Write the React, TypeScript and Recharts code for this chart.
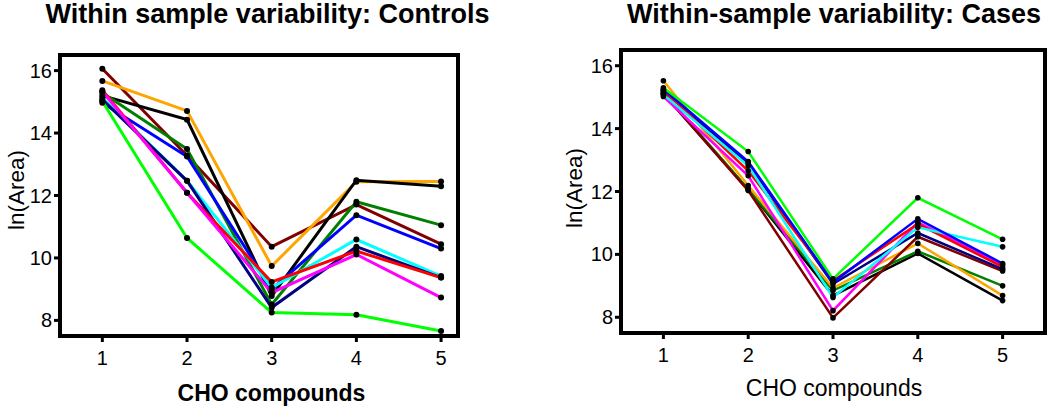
import React from "react";
import { LineChart, Line, XAxis, YAxis, ReferenceArea } from "recharts";

// compound index on the x axis
const compounds = [1, 2, 3, 4, 5];
const yTicks = [8, 10, 12, 14, 16];

// Controls: ln(Area) per sample
const ctlBrown = [16.06, 13.28, 10.36, 11.71, 10.44];
const ctlOrange = [15.67, 14.71, 9.74, 12.44, 12.45];
const ctlBlack = [15.2, 14.43, 8.78, 12.49, 12.3];
const ctlGreen = [15.29, 13.49, 8.51, 11.8, 11.05];
const ctlBlue = [14.97, 13.25, 9.0, 11.37, 10.3];
const ctlCyan = [15.13, 12.47, 9.05, 10.59, 9.42];
const ctlNavy = [15.07, 12.47, 8.41, 10.36, 9.37];
const ctlRed = [15.37, 12.09, 9.23, 10.22, 9.37];
const ctlMagenta = [15.33, 12.09, 8.89, 10.11, 8.73];
const ctlLime = [15.02, 10.64, 8.25, 8.18, 7.66];

// Cases: ln(Area) per sample
const caseLime = [15.3, 13.27, 9.22, 11.8, 10.48];
const caseCyan = [15.08, 12.82, 8.63, 10.86, 10.24];
const caseBlue = [15.25, 12.95, 9.11, 11.13, 9.71];
const caseRed = [15.22, 12.66, 9.16, 10.97, 9.6];
const caseMagenta = [15.02, 12.5, 8.21, 11.02, 9.67];
const caseNavy = [15.2, 12.9, 9.06, 10.68, 9.53];
const caseBrown = [15.12, 12.03, 7.98, 10.56, 9.47];
const caseOrange = [15.52, 12.19, 8.93, 10.35, 8.69];
const caseGreen = [15.15, 12.08, 8.85, 10.1, 9.0];
const caseBlack = [15.1, 12.06, 8.69, 10.03, 8.53];

const ctlSeries = [
  { key: "brown", color: "#800000", values: ctlBrown },
  { key: "orange", color: "#ffa500", values: ctlOrange },
  { key: "black", color: "#000000", values: ctlBlack },
  { key: "green", color: "#008000", values: ctlGreen },
  { key: "blue", color: "#0000ff", values: ctlBlue },
  { key: "cyan", color: "#00ffff", values: ctlCyan },
  { key: "navy", color: "#000080", values: ctlNavy },
  { key: "red", color: "#ff0000", values: ctlRed },
  { key: "magenta", color: "#ff00ff", values: ctlMagenta },
  { key: "lime", color: "#00ff00", values: ctlLime },
];

const caseSeries = [
  { key: "black", color: "#000000", values: caseBlack },
  { key: "green", color: "#008000", values: caseGreen },
  { key: "orange", color: "#ffa500", values: caseOrange },
  { key: "brown", color: "#800000", values: caseBrown },
  { key: "navy", color: "#000080", values: caseNavy },
  { key: "magenta", color: "#ff00ff", values: caseMagenta },
  { key: "red", color: "#ff0000", values: caseRed },
  { key: "cyan", color: "#00ffff", values: caseCyan },
  { key: "blue", color: "#0000ff", values: caseBlue },
  { key: "lime", color: "#00ff00", values: caseLime },
];

const buildRows = (series: { key: string; values: number[] }[]) =>
  compounds.map((x, i) => {
    const row: any = { x };
    series.forEach((s) => (row[s.key] = s.values[i]));
    return row;
  });

const FONT = "'Liberation Sans', Arial, Helvetica, sans-serif";
const tickStyle = { fontSize: 20, fill: "#000", fontFamily: FONT };

function Panel({ series, xMax, lineWidth, dotR, width, margin }: any) {
  const Y_MIN = 7.5;
  const Y_MAX = 16.5;
  return (
    <LineChart width={width} height={406} data={buildRows(series)} margin={margin}>
      <XAxis
        dataKey="x"
        type="number"
        domain={[0.5, xMax]}
        ticks={compounds}
        allowDataOverflow
        axisLine={false}
        tickLine={{ stroke: "#000", strokeWidth: 3 }}
        tickSize={6}
        tickMargin={9}
        height={40}
        tick={tickStyle}
      />
      <YAxis
        type="number"
        domain={[Y_MIN, Y_MAX]}
        ticks={yTicks}
        allowDataOverflow
        axisLine={false}
        tickLine={{ stroke: "#000", strokeWidth: 3 }}
        tickSize={6}
        tickMargin={2}
        width={45}
        tick={tickStyle}
      />
      {series.map((s: any) => (
        <Line
          key={s.key}
          dataKey={s.key}
          stroke={s.color}
          strokeWidth={lineWidth}
          type="linear"
          dot={{ r: dotR, fill: "#000", stroke: "#000", strokeWidth: 0 }}
          isAnimationActive={false}
        />
      ))}
      <ReferenceArea
        x1={0.5}
        x2={xMax}
        y1={Y_MIN}
        y2={Y_MAX}
        fill="none"
        fillOpacity={0}
        stroke="#000"
        strokeWidth={4}
        ifOverflow="visible"
      />
    </LineChart>
  );
}

const abs = (style: any): any => ({ position: "absolute", fontFamily: FONT, color: "#000", whiteSpace: "nowrap", ...style });

export default function App() {
  return (
    <div style={{ position: "absolute", left: 0, top: 0, width: 1050, height: 406, background: "#fff", overflow: "hidden" }}>
      <div style={abs({ left: 0, top: 0 })}>
        <Panel
          series={ctlSeries}
          xMax={5.2}
          lineWidth={3}
          dotR={3}
          width={470}
          margin={{ top: 55, right: 12, bottom: 30, left: 15 }}
        />
      </div>
      <div style={abs({ left: 560, top: 0 })}>
        <Panel
          series={caseSeries}
          xMax={5.5}
          lineWidth={2.5}
          dotR={2.8}
          width={490}
          margin={{ top: 50, right: 5, bottom: 33, left: 16 }}
        />
      </div>

      <div style={abs({ left: 267.5, top: 1, transform: "translateX(-50%)", fontSize: 27, lineHeight: "27px", fontWeight: 700 })}>
        Within sample variability: Controls
      </div>
      <div style={abs({ left: 834, top: 1, transform: "translateX(-50%)", fontSize: 27, lineHeight: "27px", fontWeight: 700 })}>
        Within-sample variability: Cases
      </div>

      <div style={abs({ left: 271.5, top: 382, transform: "translateX(-50%)", fontSize: 23, lineHeight: "23px", fontWeight: 700 })}>
        CHO compounds
      </div>
      <div style={abs({ left: 834, top: 377, transform: "translateX(-50%)", fontSize: 23, lineHeight: "23px" })}>
        CHO compounds
      </div>

      <div style={abs({ left: 17, top: 190, transform: "translate(-50%, -50%) rotate(-90deg)", fontSize: 22.5, lineHeight: 1 })}>
        ln(Area)
      </div>
      <div style={abs({ left: 575, top: 188, transform: "translate(-50%, -50%) rotate(-90deg)", fontSize: 22.5, lineHeight: 1 })}>
        ln(Area)
      </div>
    </div>
  );
}
